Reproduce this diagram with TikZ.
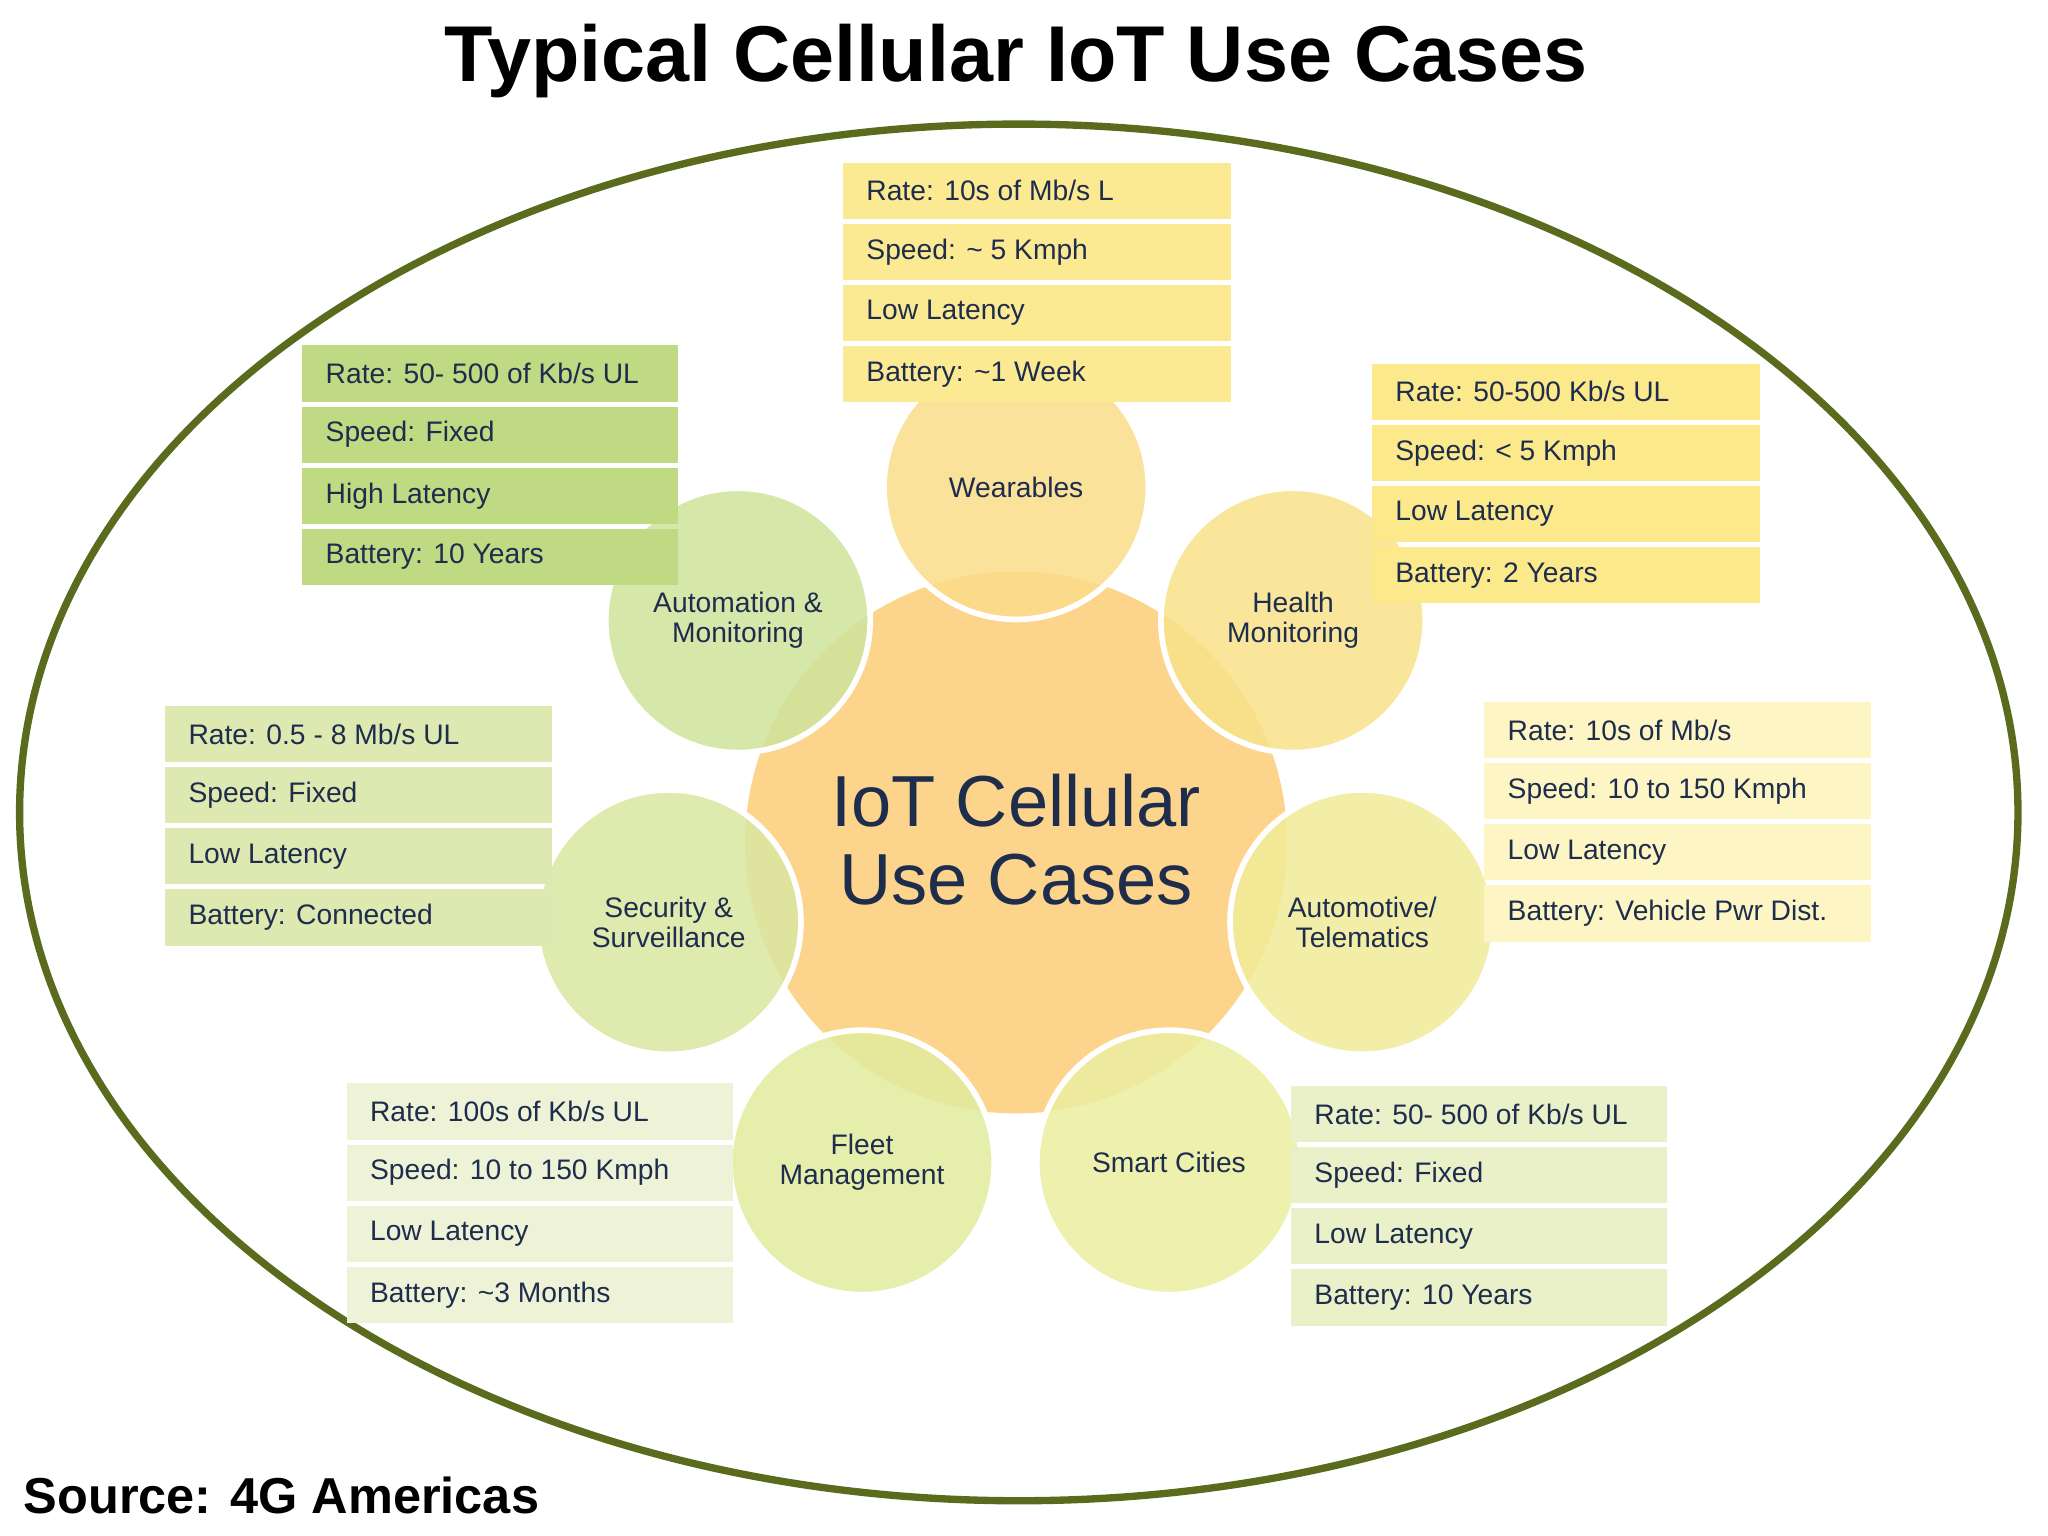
\documentclass[tikz,border=0pt]{standalone}
\usepackage{fontspec}
\setmainfont{Liberation Sans}
\begin{document}
\begin{tikzpicture}[x=0.02cm,y=-0.02cm,
  row/.style={anchor=west,minimum height=0.86cm,inner ysep=0pt,inner xsep=0.36cm,text width=#1,text=txt,font=\fontsize{12.3}{14}\selectfont,align=flush left},
  circ/.style={circle,minimum size=4.05cm,draw=white,line width=2.5pt,fill opacity=0.85,text opacity=1,text=txt,font=\fontsize{12.3}{13}\selectfont,align=center}]
\definecolor{txt}{HTML}{1F2D4D}
\definecolor{olive}{HTML}{5A6B1E}
\definecolor{corec}{HTML}{FCD48C}
\useasboundingbox (0,0) rectangle (1568,1176);
\fill[white] (0,0) rectangle (1568,1176);
\node (title) at (778,47) {\fontsize{34.5}{38}\selectfont\bfseries Typical Cellular IoT Use Cases};
\draw[olive,line width=3.2pt,fill=white] (780,622) ellipse [x radius=765,y radius=527];
\node[circle,minimum size=8.3cm,fill=corec,draw=none] (core) at (778,645) {};
\foreach \n/\x/\y/\c/\t in {w/778/373/FBDD8A/Wearables, a/565/475/CFE39C/{Automation \&\\Monitoring}, h/990/475/F8E28A/{Health\\Monitoring}, s/512/706/D9E7A0/{Security \&\\Surveillance}, t/1043/706/F1EC98/{Automotive/\\Telematics}, f/660/890/E2EC9E/{Fleet\\Management}, c/895/890/ECEFA0/{Smart Cities}}{
  \definecolor{cc}{HTML}{\c}
  \node[circ,fill=cc] (\n) at (\x,\y) {\t};
}
\node[text=txt,font=\fontsize{31.5}{34}\selectfont,align=center] (ctext) at (778,643) {IoT Cellular\\Use Cases};
\foreach \id/\x/\w/\y/\col/\ra/\rb/\rc/\rd in {
  top/645/297/146/FCEA93/{Rate: 10s of Mb/s L}/{Speed: \textasciitilde\ 5 Kmph}/{Low Latency}/{Battery: \textasciitilde1 Week},
  aut/231/288/286/BFDA82/{Rate: 50- 500 of Kb/s UL}/{Speed: Fixed}/{High Latency}/{Battery: 10 Years},
  hea/1050/297/300/FBE98C/{Rate: 50-500 Kb/s UL}/{Speed: < 5 Kmph}/{Low Latency}/{Battery: 2 Years},
  sec/126/296/562/DDE9B0/{Rate: 0.5 - 8 Mb/s UL}/{Speed: Fixed}/{Low Latency}/{Battery: Connected},
  tel/1136/296/559/FDF6C4/{Rate: 10s of Mb/s}/{Speed: 10 to 150 Kmph}/{Low Latency}/{Battery: Vehicle Pwr Dist.},
  fle/265/296/851/EEF3D8/{Rate: 100s of Kb/s UL}/{Speed: 10 to 150 Kmph}/{Low Latency}/{Battery: \textasciitilde3 Months},
  smc/988/288/853/EAF1C8/{Rate: 50- 500 of Kb/s UL}/{Speed: Fixed}/{Low Latency}/{Battery: 10 Years}}{
  \definecolor{bc}{HTML}{\col}
  \foreach \k/\tx in {0/\ra,1/\rb,2/\rc,3/\rd}{
    \node[row=\w*0.02cm-0.72cm,fill=bc] (\id\k) at (\x,\y+\k*46.8) {\tx};
  }
}
\node[anchor=west] (src) at (12,1145) {\fontsize{22}{24}\selectfont\bfseries Source: 4G Americas};
\end{tikzpicture}
\end{document}
